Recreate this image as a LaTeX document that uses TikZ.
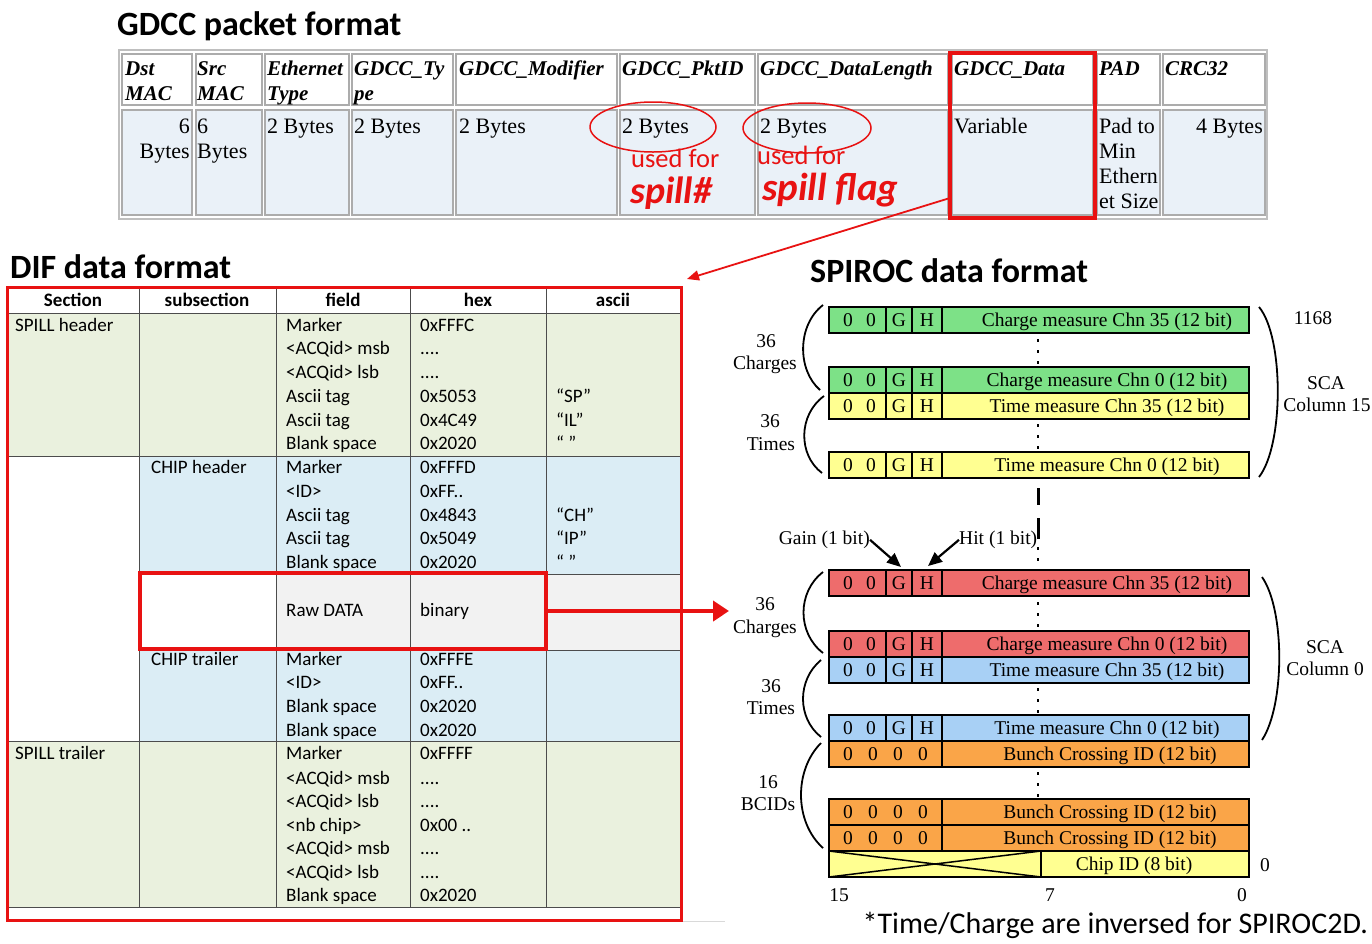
\documentclass[tikz,border=0pt]{standalone}
\usepackage{fontspec}
\setmainfont{Liberation Serif}
\newfontfamily\calib{Carlito}
\usetikzlibrary{arrows.meta}
\definecolor{gred}{RGB}{232,18,18}
\definecolor{dcell}{RGB}{234,241,248}
\definecolor{dgreen}{RGB}{234,241,222}
\definecolor{dblue}{RGB}{219,237,245}
\definecolor{dgray}{RGB}{242,242,242}
\definecolor{cgreen}{RGB}{125,225,135}
\definecolor{cyel}{RGB}{255,255,145}
\definecolor{cred}{RGB}{238,108,108}
\definecolor{cblue}{RGB}{168,208,245}
\definecolor{corange}{RGB}{250,165,72}
\newcommand\fdots{....}
\newcommand\ghrow[4]{%
  \draw[barline, fill=#3] (829,#2) rectangle (1249,#2+26);
  \draw[barline] (886,#2) -- (886,#2+26) (912,#2) -- (912,#2+26) (942,#2) -- (942,#2+26);
  \node[bt] (#1a) at (848,#2+19.5) {0};
  \node[bt] (#1b) at (871,#2+19.5) {0};
  \node[bt] (#1g) at (899,#2+19.5) {G};
  \node[bt] (#1h) at (927,#2+19.5) {H};
  \node[bt] (#1t) at (1107,#2+19.5) {#4};
}
\newcommand\bcrow[2]{%
  \draw[barline, fill=corange] (829,#2) rectangle (1249,#2+26);
  \draw[barline] (942,#2) -- (942,#2+26);
  \node[bt] (#1a) at (848,#2+19.5) {0};
  \node[bt] (#1b) at (873,#2+19.5) {0};
  \node[bt] (#1c) at (898,#2+19.5) {0};
  \node[bt] (#1d) at (923,#2+19.5) {0};
  \node[bt] (#1t) at (1110,#2+19.5) {Bunch Crossing ID (12 bit)};
}
\begin{document}
\begin{tikzpicture}[x=1pt,y=-1pt,
  ttl/.style={font=\calib\bfseries\fontsize{34}{40}\selectfont, anchor=base west, inner sep=0pt},
  gh/.style={font=\fontsize{21}{25}\selectfont\bfseries\itshape, anchor=base west, inner sep=0pt},
  gd/.style={font=\fontsize{22}{25}\selectfont, anchor=base west, inner sep=0pt},
  cellb/.style={draw=gray!65, line width=2pt},
  dt/.style={font=\calib\fontsize{19}{23}\selectfont, anchor=base west, inner sep=0pt},
  dth/.style={font=\calib\bfseries\fontsize{19}{23}\selectfont, anchor=base, inner sep=0pt},
  gline/.style={draw=black!70, line width=1pt},
  barline/.style={draw=black, line width=2pt},
  bt/.style={font=\fontsize{19.5}{22}\selectfont, anchor=base, inner sep=0pt},
  lb/.style={font=\fontsize{19.5}{22}\selectfont, anchor=base, inner sep=0pt},
  paren/.style={draw=black, line width=1.8pt},
  dots/.style={draw=black, line width=2pt, dash pattern=on 3pt off 8pt},
  redt/.style={text=gred, anchor=base west, inner sep=0pt}]
\useasboundingbox (0,0) rectangle (1372,943);
\fill[white] (0,0) rectangle (1372,943);

% ---------- GDCC packet format ----------
\node[ttl] (t1) at (117,35) {GDCC packet format};
\draw[gray!50, line width=2.5pt] (119,50) rectangle (1267,219);
\foreach \a/\b in {122/192,196/262,265/349,352/453,456/617,620/755,758/948,952/1093,1097/1160,1163/1265}{
  \draw[cellb, fill=white] (\a,54) rectangle (\b,105);
  \draw[cellb, fill=dcell] (\a,110) rectangle (\b,215);
}
\foreach \x/\t [count=\i] in {125/Dst,197/Src,267/Ethernet,354/GDCC\_Ty,459/GDCC\_Modifier,622/GDCC\_PktID,760/GDCC\_DataLength,954/GDCC\_Data,1099/PAD,1165/CRC32}
  \node[gh] (gh\i) at (\x,75) {\t};
\foreach \x/\t [count=\i] in {125/MAC,197/MAC,267/Type,354/pe}
  \node[gh] (gk\i) at (\x,100) {\t};
\node[gd, anchor=base east] (d1a) at (190,133) {6};
\node[gd, anchor=base east] (d1b) at (190,158) {Bytes};
\node[gd] (d2a) at (197,133) {6};
\node[gd] (d2b) at (197,158) {Bytes};
\foreach \x [count=\i] in {267,354,459,622,760}
  \node[gd] (db\i) at (\x,133) {2 Bytes};
\node[gd] (d8) at (954,133) {Variable};
\node[gd] (d9a) at (1099,133) {Pad to};
\node[gd] (d9b) at (1099,158) {Min};
\node[gd] (d9c) at (1099,183) {Ethern};
\node[gd] (d9d) at (1099,208) {et Size};
\node[gd, anchor=base east] (d10) at (1263,133) {4 Bytes};
\node[draw=gred, line width=3.5pt, minimum width=145pt, minimum height=165pt, inner sep=0pt] (gbox) at (1022.5,135.5) {};
\draw[gred, line width=1.5pt] (653,127) ellipse [x radius=63, y radius=25];
\draw[gred, line width=1.5pt] (807,128) ellipse [x radius=64, y radius=25];
\node[redt, font=\calib\fontsize{26.5}{30}\selectfont] (uf1) at (631,167) {used for};
\node[redt, font=\calib\bfseries\itshape\fontsize{38}{42}\selectfont] (sp1) at (630,203) {spill\#};
\node[redt, font=\calib\fontsize{26.5}{30}\selectfont] (uf2) at (757,164) {used for};
\node[redt, font=\calib\bfseries\itshape\fontsize{39}{42}\selectfont] (sp2) at (762,200) {spill flag};

% ---------- DIF data format ----------
\node[ttl] (t2) at (10,278) {DIF data format};
\fill[dgreen] (7,313) rectangle (680,456);
\fill[dblue] (139,456) rectangle (680,574);
\fill[dgray] (276,574) rectangle (680,650);
\fill[dblue] (139,650) rectangle (680,741);
\fill[dgreen] (7,741) rectangle (680,907);
\draw[gline] (7,313) -- (680,313) (7,456) -- (680,456) (139,574) -- (680,574)
  (139,650) -- (680,650) (7,741) -- (680,741) (7,907) -- (680,907);
\draw[gline] (139,289) -- (139,907) (276,289) -- (276,907) (410,289) -- (410,907)
  (546,289) -- (546,907) (680,289) -- (680,907);
\foreach \x/\t [count=\i] in {73/Section,207/subsection,343/field,478/hex,613/ascii}
  \node[dth] (hh\i) at (\x,306) {\t};
\node[dt] (s1) at (15,331) {SPILL header};
\node[dt] (s2) at (151,473) {CHIP header};
\node[dt] (s3) at (151,665) {CHIP trailer};
\node[dt] (s4) at (15,759) {SPILL trailer};
\foreach \y/\f/\h [count=\i] in {331/Marker/0xFFFC,354/<ACQid> msb/\fdots,378/<ACQid> lsb/\fdots,402/Ascii tag/0x5053,426/Ascii tag/0x4C49,449/Blank space/0x2020,
  473/Marker/0xFFFD,497/<ID>/0xFF..,521/Ascii tag/0x4843,544/Ascii tag/0x5049,568/Blank space/0x2020,
  616/Raw DATA/binary,
  665/Marker/0xFFFE,688/<ID>/0xFF..,712/Blank space/0x2020,736/Blank space/0x2020,
  759/Marker/0xFFFF,784/<ACQid> msb/\fdots,807/<ACQid> lsb/\fdots,831/<nb chip>/0x00 ..,854/<ACQid> msb/\fdots,878/<ACQid> lsb/\fdots,901/Blank space/0x2020}{
  \node[dt] (f\i) at (286,\y) {\f};
  \node[dt] (x\i) at (420,\y) {\h};
}
\node[dt] (a1) at (556,402) {“SP”};
\node[dt] (a2) at (556,426) {“IL”};
\node[dt] (a3) at (556,449) {“ ”};
\node[dt] (a4) at (556,521) {“CH”};
\node[dt] (a5) at (556,544) {“IP”};
\node[dt] (a6) at (556,568) {“ ”};
\node[draw=gred, line width=3pt, minimum width=674pt, minimum height=633pt, inner sep=0pt] (difbox) at (344,603.5) {};
\node[draw=gred, line width=3.2pt, minimum width=406pt, minimum height=76pt, inner sep=0pt] (rawbox) at (343,611) {};
\draw[gray!30, line width=1pt] (683,921) -- (725,921);

% connectors
\coordinate (gs) at (950,198);
\coordinate (ge) at (687,279);
\draw[gred, line width=1.8pt, -{Triangle[length=12pt,width=10pt]}] (gs) -- (ge);
\coordinate (rawtip) at (729,611);
\draw[gred, line width=4pt, -{Triangle[length=16pt,width=20pt]}] (rawbox.east) -- (rawtip);

% ---------- SPIROC data format ----------
\node[ttl] (t3) at (810,282) {SPIROC data format};
\ghrow{ra}{307}{cgreen}{Charge measure Chn 35 (12 bit)}
\ghrow{rb}{367}{cgreen}{Charge measure Chn 0 (12 bit)}
\ghrow{rc}{393}{cyel}{Time measure Chn 35 (12 bit)}
\ghrow{rd}{452}{cyel}{Time measure Chn 0 (12 bit)}
\ghrow{re}{570}{cred}{Charge measure Chn 35 (12 bit)}
\ghrow{rf}{631}{cred}{Charge measure Chn 0 (12 bit)}
\ghrow{rg}{657}{cblue}{Time measure Chn 35 (12 bit)}
\ghrow{rh}{715}{cblue}{Time measure Chn 0 (12 bit)}
\bcrow{ri}{741}
\bcrow{rj}{799}
\bcrow{rk}{825}
\draw[barline, fill=cyel] (829,851) rectangle (1249,877);
\draw[barline] (1041,851) -- (1041,877);
\draw[black, line width=1.5pt] (829,851) -- (1041,877) (829,877) -- (1041,851);
\node[bt] (chip) at (1134,870.5) {Chip ID (8 bit)};
% dotted continuation marks
\draw[dots] (1038,339) -- (1038,365);
\draw[dots] (1038,424) -- (1038,450);
\draw[dots] (1038,602) -- (1038,628);
\draw[dots] (1038,688) -- (1038,714);
\draw[dots] (1038,772) -- (1038,798);
\draw[black, line width=3pt] (1038,488) -- (1038,505) (1038,518) -- (1038,539);
\draw[dots] (1038,547) -- (1038,569);
% brackets
\draw[paren] (823,305) .. controls (797,325) and (797,370) .. (820,390);
\draw[paren] (824,396) .. controls (798,415) and (798,455) .. (822,473);
\draw[paren] (1259,307) .. controls (1284,337) and (1284,445) .. (1259,477);
\draw[paren] (823,572) .. controls (797,592) and (797,633) .. (823,653);
\draw[paren] (821,660) .. controls (797,680) and (797,718) .. (821,737);
\draw[paren] (821,743) .. controls (794,770) and (794,822) .. (823,848);
\draw[paren] (1262,577) .. controls (1285,610) and (1285,705) .. (1262,740);
% labels
\node[lb] (l1) at (766,347.5) {36};
\node[lb] (l2) at (765,369.5) {Charges};
\node[lb] (l3) at (770,427.5) {36};
\node[lb] (l4) at (771,450.5) {Times};
\node[lb] (l5) at (1326,389.5) {SCA};
\node[lb] (l6) at (1327,411.5) {Column 15};
\node[lb] (l7) at (1313,324.5) {1168};
\node[lb] (l8) at (765,610.5) {36};
\node[lb] (l9) at (765,633.5) {Charges};
\node[lb] (l10) at (771,692.5) {36};
\node[lb] (l11) at (771,714.5) {Times};
\node[lb] (l12) at (768,788.5) {16};
\node[lb] (l13) at (768,810.5) {BCIDs};
\node[lb] (l14) at (1325,653.5) {SCA};
\node[lb] (l15) at (1325,675.5) {Column 0};
\node[lb] (b15) at (839,901.5) {15};
\node[lb] (b7) at (1050,901.5) {7};
\node[lb] (b0) at (1242,901.5) {0};
\node[lb] (c0) at (1265,871.5) {0};
\node[lb, anchor=base east] (gain) at (870,544.5) {Gain (1 bit)};
\node[lb, anchor=base west] (hit) at (959,544.5) {Hit (1 bit)};
\coordinate (gtip) at (901,567);
\coordinate (htip) at (928,566);
\draw[black, line width=2.2pt, -{Triangle[length=14pt,width=12pt]}] (gain.east) -- (gtip);
\draw[black, line width=2.2pt, -{Triangle[length=14pt,width=12pt]}] (hit.west) -- (htip);
\node[font=\calib\fontsize{30}{34}\selectfont, anchor=base east, inner sep=0pt] (foot) at (1368,933) {*Time/Charge are inversed for SPIROC2D.};
\end{tikzpicture}
\end{document}
